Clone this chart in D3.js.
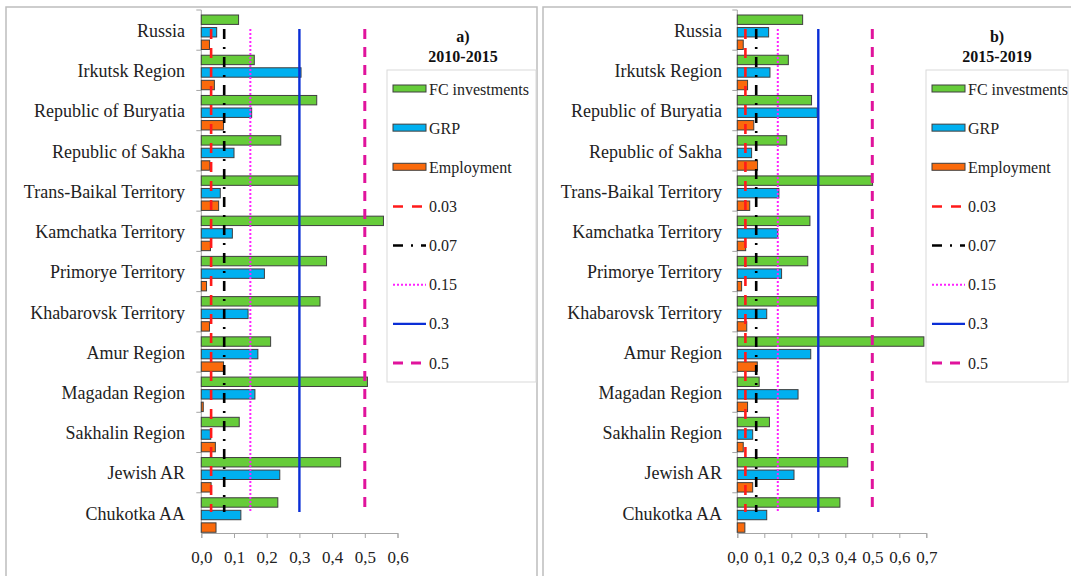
<!DOCTYPE html>
<html>
<head>
<meta charset="utf-8">
<script src="https://cdn.jsdelivr.net/npm/d3@7"></script>
<style>
  body { margin: 0; background: #fff; }
  svg { display: block; }
</style>
</head>
<body>
<div id="viz"></div>
<script>
// regions, top to bottom
const regions = ["Russia", "Irkutsk Region", "Republic of Buryatia", "Republic of Sakha",
  "Trans-Baikal Territory", "Kamchatka Territory", "Primorye Territory", "Khabarovsk Territory",
  "Amur Region", "Magadan Region", "Sakhalin Region", "Jewish AR", "Chukotka AA"];

// a) 2010-2015
const fcInv1 = [0.114, 0.162, 0.353, 0.243, 0.298, 0.557, 0.383, 0.363, 0.212, 0.508, 0.116, 0.426, 0.234];
const grp1   = [0.047, 0.305, 0.154, 0.100, 0.058, 0.095, 0.193, 0.143, 0.173, 0.164, 0.029, 0.240, 0.121];
const emp1   = [0.025, 0.040, 0.068, 0.026, 0.053, 0.028, 0.016, 0.025, 0.068, 0.006, 0.043, 0.030, 0.045];

// b) 2015-2019
const fcInv2 = [0.242, 0.189, 0.275, 0.183, 0.501, 0.269, 0.261, 0.296, 0.691, 0.081, 0.119, 0.409, 0.380];
const grp2   = [0.116, 0.121, 0.296, 0.053, 0.154, 0.150, 0.164, 0.109, 0.272, 0.225, 0.057, 0.210, 0.109];
const emp2   = [0.022, 0.038, 0.061, 0.075, 0.046, 0.031, 0.016, 0.035, 0.074, 0.038, 0.022, 0.057, 0.028];

const seriesNames = ["FC investments", "GRP", "Employment"];
const seriesColors = ["#66cc3a", "#00b0f0", "#fa6a0c"];

// threshold lines
const thresholds = [0.03, 0.07, 0.15, 0.3, 0.5];
const thresholdLabels = ["0.03", "0.07", "0.15", "0.3", "0.5"];
const thresholdStyles = [
  {color: "#ff1a1a", dash: "10,9", width: 2.6},
  {color: "#000000", dash: "10,8,2,8", width: 2.6},
  {color: "#ff22ff", dash: "2,2", width: 2},
  {color: "#0a2ed6", dash: null, width: 2.4},
  {color: "#e0139c", dash: "10,8", width: 3}
];

const ticks1 = [0, 0.1, 0.2, 0.3, 0.4, 0.5, 0.6];
const ticks2 = [0, 0.1, 0.2, 0.3, 0.4, 0.5, 0.6, 0.7];

const W = 1071, H = 576;
const FONT = "Liberation Serif";
const svg = d3.select("#viz").append("svg")
  .attr("width", W).attr("height", H)
  .attr("font-family", FONT);

function drawPanel(p) {
  const g = svg.append("g");

  // panel frame
  g.append("rect")
    .attr("x", p.frame[0]).attr("y", 7)
    .attr("width", p.frame[1] - p.frame[0]).attr("height", 600)
    .attr("fill", "none").attr("stroke", "#bdbdbd").attr("stroke-width", 1.5);

  const x = d3.scaleLinear().domain([0, p.max]).range([p.x0, p.x1]);
  const y = d3.scaleBand().domain(regions).range([10, 533]);
  const sub = d3.scaleBand().domain(seriesNames).range([5, 39.5]).paddingInner(0.25);

  // x axis
  const xAxis = g.append("g")
    .attr("transform", "translate(0,533)")
    .call(d3.axisBottom(x).tickValues(p.ticks).tickSize(5).tickPadding(13)
      .tickFormat(d => d3.format(".1f")(d).replace(".", ",")));
  xAxis.attr("font-family", FONT);
  xAxis.select(".domain").attr("stroke", "#a6a6a6");
  xAxis.selectAll(".tick line").attr("stroke", "#a6a6a6");
  xAxis.selectAll(".tick text").attr("font-size", 17).attr("fill", "#222");

  // y axis: ticks at band boundaries
  const yAxis = g.append("g").attr("transform", `translate(${p.x0},0)`);
  yAxis.append("line").attr("x1", 0).attr("x2", 0).attr("y1", 10).attr("y2", 533)
    .attr("stroke", "#a6a6a6");
  yAxis.selectAll("line.tk").data(regions).enter().append("line")
    .attr("class", "tk")
    .attr("x1", -5).attr("x2", 0)
    .attr("y1", d => y(d)).attr("y2", d => y(d))
    .attr("stroke", "#a6a6a6");
  yAxis.selectAll("text").data(regions).enter().append("text")
    .attr("x", p.labelX - p.x0)
    .attr("y", d => y(d) + y.bandwidth() / 2 + 0.5)
    .attr("dy", "0.35em")
    .attr("text-anchor", "end")
    .attr("font-size", 18).attr("fill", "#222")
    .text(d => d);

  // bars
  const rows = [];
  regions.forEach((r, i) => {
    p.series.forEach((s, j) => rows.push({region: r, name: seriesNames[j], value: s[i], color: seriesColors[j]}));
  });
  g.selectAll("rect.bar").data(rows).enter().append("rect")
    .attr("class", "bar")
    .attr("x", x(0))
    .attr("y", d => y(d.region) + sub(d.name))
    .attr("width", d => x(d.value) - x(0))
    .attr("height", sub.bandwidth())
    .attr("fill", d => d.color)
    .attr("stroke", "#3f3f3f").attr("stroke-width", 1);

  // threshold lines
  const yTop = y(regions[0]) + y.bandwidth() / 2 - 1;
  const yBot = y(regions[regions.length - 1]) + y.bandwidth() / 2 - 1;
  thresholds.forEach((t, i) => {
    const st = thresholdStyles[i];
    g.append("line")
      .attr("x1", x(t)).attr("x2", x(t))
      .attr("y1", yTop).attr("y2", yBot)
      .attr("stroke", st.color).attr("stroke-width", st.width)
      .attr("stroke-dasharray", st.dash);
  });

  // title
  g.append("text").attr("x", p.titleX).attr("y", 42).attr("text-anchor", "middle")
    .attr("font-size", 16).attr("font-weight", "bold").attr("fill", "#111").text(p.tag);
  g.append("text").attr("x", p.titleX).attr("y", 62).attr("text-anchor", "middle")
    .attr("font-size", 16).attr("font-weight", "bold").attr("fill", "#111").text(p.period);

  // legend
  const lg = g.append("g").attr("transform", `translate(${p.legend[0]},70)`);
  lg.append("rect").attr("x", 0).attr("y", 0)
    .attr("width", p.legend[1] - p.legend[0]).attr("height", 312)
    .attr("fill", "#fff").attr("stroke", "#d9d9d9");
  const items = seriesNames.map((n, i) => ({label: n, kind: "bar", color: seriesColors[i]}))
    .concat(thresholdLabels.map((n, i) => ({label: n, kind: "line", st: thresholdStyles[i]})));
  const ly = d3.scalePoint().domain(items.map(d => d.label)).range([19, 293]);
  items.forEach(it => {
    const cy = ly(it.label);
    if (it.kind === "bar") {
      lg.append("rect").attr("x", 6).attr("y", cy - 4).attr("width", 33).attr("height", 7)
        .attr("fill", it.color).attr("stroke", "#3f3f3f");
    } else {
      lg.append("line").attr("x1", 6).attr("x2", 39).attr("y1", cy).attr("y2", cy)
        .attr("stroke", it.st.color).attr("stroke-width", it.st.width)
        .attr("stroke-dasharray", it.st.dash);
    }
    lg.append("text").attr("x", 42).attr("y", cy).attr("dy", "0.35em")
      .attr("font-size", 16).attr("fill", "#222").text(it.label);
  });
}

drawPanel({
  frame: [6, 537], x0: 201.3, x1: 397.5, max: 0.6, ticks: ticks1, labelX: 185,
  series: [fcInv1, grp1, emp1], tag: "a)", period: "2010-2015", titleX: 463,
  legend: [387, 536]
});
drawPanel({
  frame: [543, 1080], x0: 737.3, x1: 926.3, max: 0.7, ticks: ticks2, labelX: 722,
  series: [fcInv2, grp2, emp2], tag: "b)", period: "2015-2019", titleX: 997,
  legend: [926, 1068]
});
</script>
</body>
</html>
